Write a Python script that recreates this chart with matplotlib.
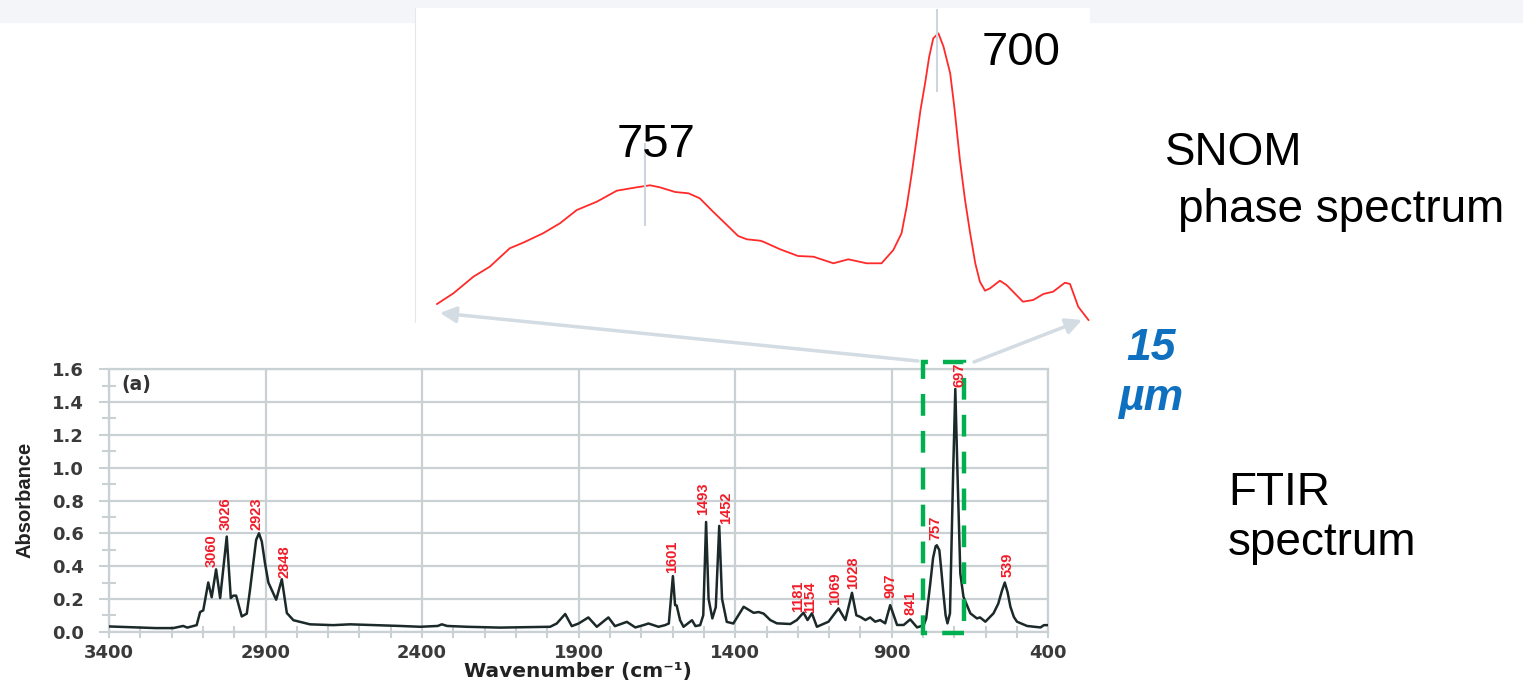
import numpy as np
import matplotlib
matplotlib.use('Agg')
import matplotlib.pyplot as plt
from matplotlib.patches import Rectangle, FancyArrowPatch

W, H = 1523, 682

# FTIR absorbance spectrum (wavenumber, absorbance)
ftir_wn = [3400, 3300, 3250, 3195, 3163, 3150, 3120, 3109, 3099, 3083, 3072, 3058, 3045,
           3024, 3011, 3003, 2994, 2976, 2960, 2950, 2939, 2930, 2921, 2912, 2902, 2891, 2866,
           2848, 2832, 2811, 2758, 2684, 2630, 2470, 2406, 2350, 2337, 2320, 2257, 2151, 1991,
           1970, 1943, 1922, 1900, 1869, 1842, 1805, 1784, 1746, 1719, 1693, 1677, 1661, 1645,
           1624, 1612, 1599, 1592, 1587, 1576, 1565, 1538, 1527, 1512, 1502, 1493, 1485,
           1473, 1462, 1451, 1442, 1427, 1406, 1373, 1341, 1325, 1309, 1288, 1267, 1224,
           1203, 1182, 1169, 1155, 1139, 1102, 1070, 1048, 1027, 1013, 1000, 984, 969, 953,
           937, 921, 905, 883, 862, 841, 819, 798, 790, 777, 768, 760, 756, 748, 742, 735, 728,
           722, 714, 704, 697, 690, 681, 671, 649, 628, 618, 601, 575, 560, 548, 539, 530, 521,
           510, 500, 468, 425, 414, 400]
ftir_abs = [0.032, 0.025, 0.022, 0.022, 0.035, 0.025, 0.04, 0.12, 0.13, 0.30, 0.21, 0.38, 0.205,
            0.58, 0.205, 0.22, 0.22, 0.093, 0.11, 0.25, 0.42, 0.56, 0.60, 0.55, 0.42, 0.30, 0.195,
            0.32, 0.114, 0.07, 0.045, 0.04, 0.045, 0.035, 0.03, 0.035, 0.045, 0.035, 0.03, 0.025, 0.03,
            0.05, 0.108, 0.034, 0.05, 0.087, 0.03, 0.087, 0.034, 0.06, 0.026, 0.04, 0.05, 0.04, 0.03,
            0.04, 0.05, 0.339, 0.162, 0.16, 0.07, 0.03, 0.07, 0.034, 0.04, 0.10, 0.669, 0.20,
            0.081, 0.15, 0.645, 0.20, 0.06, 0.05, 0.152, 0.115, 0.12, 0.11, 0.071, 0.051, 0.047,
            0.071, 0.116, 0.071, 0.112, 0.03, 0.061, 0.142, 0.071, 0.237, 0.10, 0.09, 0.071, 0.087, 0.061,
            0.071, 0.051, 0.162, 0.041, 0.041, 0.075, 0.026, 0.04, 0.08, 0.294, 0.45, 0.52, 0.527, 0.497,
            0.38, 0.233, 0.10, 0.051, 0.112, 0.963, 1.48, 0.963, 0.355, 0.213, 0.112, 0.081, 0.087,
            0.061, 0.112, 0.17, 0.25, 0.30, 0.24, 0.152, 0.09, 0.061, 0.035, 0.026, 0.04, 0.04]

peak_labels = ['3060', '3026', '2923', '2848', '1601', '1493', '1452', '1181', '1154',
               '1069', '1028', '907', '841', '757', '697', '539']
label_x = [3071, 3026, 2928, 2841, 1601, 1503, 1429, 1199, 1160, 1080, 1022, 905, 841, 762, 684, 529]
label_y = [0.395, 0.619, 0.619, 0.327, 0.357, 0.71, 0.655, 0.122, 0.112, 0.162, 0.258, 0.203,
           0.10, 0.558, 1.49, 0.331]

# SNOM phase spectrum (a.u.)
snom_wn = [797.6, 794.4, 790.5, 787.3, 783.4, 780.8, 776.9, 773.6, 770.3, 766.4, 762.5, 758.6,
           756.0, 754.1, 751.1, 748.5, 746.3, 743.7, 741.0, 738.8, 737.1, 734.5, 733.9, 730.6,
           727.1, 724.1, 720.2, 717.3, 713.7, 710.8, 708.5, 706.9, 705.9, 704.9, 704.0, 703.2,
           702.3, 701.5, 700.7, 699.7, 698.7, 697.4, 696.6, 695.5, 694.5, 693.5, 692.5, 691.6,
           690.6, 689.6, 687.7, 686.4, 683.2, 681.2, 679.2, 677.3, 675.0, 674.0, 672.4, 670.4]
snom_phase = [0.26, 0.367, 0.533, 0.633, 0.817, 0.873, 0.967, 1.067, 1.20, 1.283, 1.393, 1.427,
              1.447, 1.427, 1.38, 1.367, 1.317, 1.183, 1.05, 0.94, 0.907, 0.893, 0.883, 0.807,
              0.74, 0.733, 0.667, 0.707, 0.667, 0.667, 0.80, 0.967, 1.233, 1.567, 1.90, 2.20,
              2.467, 2.733, 2.917, 2.967, 2.833, 2.567, 2.233, 1.70, 1.30, 0.967, 0.667, 0.483,
              0.393, 0.417, 0.493, 0.45, 0.283, 0.30, 0.36, 0.383, 0.473, 0.46, 0.233, 0.10]
snom_marks = [757, 700]
mark_lo = [1.04, 2.38]
mark_hi = [1.87, 3.21]

arial = ['Liberation Sans', 'DejaVu Sans']


def fx(px):
    return px / W


def fy(py):
    return 1 - py / H


fig = plt.figure(figsize=(15.23, 6.82), dpi=100)
fig.patch.set_facecolor('white')
fig.add_artist(Rectangle((0, fy(22)), 1, 22 / H, transform=fig.transFigure,
                         color='#f3f5f8', zorder=0))

# upper: SNOM phase spectrum
ax2 = fig.add_axes([fx(415), fy(322), fx(1090) - fx(415), (322 - 8) / H])
ax2.set_facecolor('white')
ax2.plot(snom_wn, snom_phase, color='#ff2a2a', lw=1.3)
ax2.vlines(snom_marks, mark_lo, mark_hi, color='#cdd6df', lw=1.5)
ax2.set_xlim(801.9, 670.1)
ax2.set_ylim(0.08, 3.22)
ax2.set_xticks([])
ax2.set_yticks([])
for s in ['top', 'right', 'bottom']:
    ax2.spines[s].set_visible(False)
ax2.spines['left'].set_color('#e4e8ed')

fig.text(fx(617), fy(157), '757', fontsize=34, family=arial, ha='left', va='baseline')
fig.text(fx(982), fy(65), '700', fontsize=34, family=arial, ha='left', va='baseline')

# lower: FTIR spectrum
gc = '#c9d1d4'
ax = fig.add_axes([fx(109), fy(631.7), fx(1048.3) - fx(109), (631.7 - 369.3) / H])
ax.plot(ftir_wn, ftir_abs, color='#1c2929', lw=1.8, zorder=3)
ax.set_xlim(3400, 400)
ax.set_ylim(0, 1.6)
ax.set_xticks(np.arange(400, 3401, 500))
ax.set_xticks(np.arange(400, 3401, 100), minor=True)
ax.set_yticks(np.arange(0, 1.61, 0.2))
ax.set_yticks(np.arange(0.1, 1.6, 0.2), minor=True)
ax.set_yticklabels(['%.1f' % v for v in np.arange(0, 1.61, 0.2)])
ax.grid(which='major', color=gc, lw=1.6)
ax.set_axisbelow(True)
for s in ax.spines.values():
    s.set_color(gc)
    s.set_linewidth(1.6)
ax.tick_params(axis='y', which='major', length=7, width=1.5, color=gc, pad=11,
               labelsize=13, labelcolor='#3a3a3a')
ax.tick_params(axis='y', which='minor', length=10, width=1.5, color=gc, direction='inout')
ax.tick_params(axis='x', which='major', length=4, width=1.5, color=gc, pad=5,
               labelsize=13, labelcolor='#3a3a3a')
ax.tick_params(axis='x', which='minor', length=8, width=1.5, color=gc, direction='inout')
for lbl in ax.get_xticklabels() + ax.get_yticklabels():
    lbl.set_fontweight('bold')

for s, x, y in zip(peak_labels, label_x, label_y):
    ax.text(x, y, s, rotation=90, ha='center', va='bottom', color='#f01c28',
            fontsize=10.5, fontweight='bold', family=arial, zorder=6, clip_on=False)

ax.text(3360, 1.505, '(a)', ha='left', va='center', fontsize=13.5, fontweight='bold',
        color='#333333')

ax.add_patch(Rectangle((670.5, -0.01), 129.5, 1.652, fill=False, ec='#00b050', lw=3.2,
                       ls=(0, (4.9, 3.4)), clip_on=False, zorder=5))

fig.text(fx(25), fy(500), 'Absorbance', rotation=90, ha='center', va='center',
         fontsize=14.5, fontweight='bold', family=arial, color='#222222')
fig.text(fx(578), fy(677), 'Wavenumber (cm⁻¹)', ha='center', va='baseline',
         fontsize=14.5, fontweight='bold', color='#222222')

# zoom arrows
fig.add_artist(FancyArrowPatch(posA=(fx(918), fy(361)), posB=(fx(440), fy(313)),
                               transform=fig.transFigure, arrowstyle='-|>',
                               mutation_scale=24, color='#d3dbe3', lw=2.5,
                               shrinkA=0, shrinkB=0))
fig.add_artist(FancyArrowPatch(posA=(fx(974), fy(362)), posB=(fx(1082), fy(320)),
                               transform=fig.transFigure, arrowstyle='-|>',
                               mutation_scale=24, color='#d3dbe3', lw=2.5,
                               shrinkA=0, shrinkB=0))

# side captions
fig.text(fx(1126), fy(360), '15', fontsize=32, fontweight='bold', style='italic',
         color='#1070c0', family=arial, ha='left', va='baseline')
fig.text(fx(1118), fy(410), 'µm', fontsize=32, fontweight='bold', style='italic',
         color='#1070c0', family=arial, ha='left', va='baseline')

fig.text(fx(1165), fy(165), 'SNOM', fontsize=33, family=arial, ha='left', va='baseline')
fig.text(fx(1178), fy(222), 'phase spectrum', fontsize=33, family=arial, ha='left', va='baseline')
fig.text(fx(1228), fy(505), 'FTIR', fontsize=33, family=arial, ha='left', va='baseline')
fig.text(fx(1228), fy(555), 'spectrum', fontsize=33, family=arial, ha='left', va='baseline')

fig.savefig('out.png', dpi=100, facecolor='white')
